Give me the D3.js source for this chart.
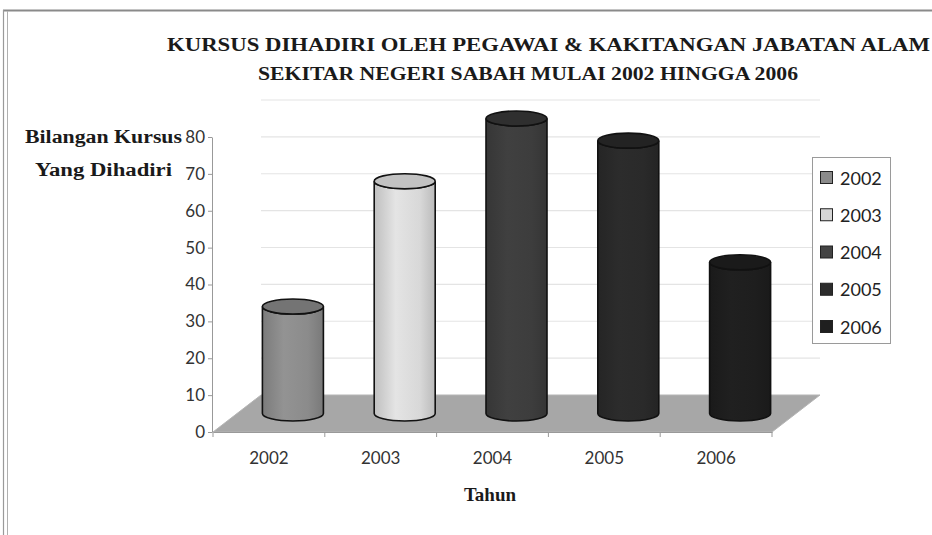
<!DOCTYPE html>
<html>
<head>
<meta charset="utf-8">
<script src="https://cdn.jsdelivr.net/npm/d3@7"></script>
<style>
  html, body { margin: 0; padding: 0; background: #fff; }
  svg { display: block; }
</style>
</head>
<body>
<svg id="chart" width="932" height="535"></svg>
<script>
// ---- Data ----
const categories = ["2002", "2003", "2004", "2005", "2006"];
const values = [29, 63, 80, 74, 41];
const yTicks = [0, 10, 20, 30, 40, 50, 60, 70, 80];
const titleLines = [
  "KURSUS DIHADIRI OLEH PEGAWAI & KAKITANGAN JABATAN ALAM",
  "SEKITAR NEGERI SABAH MULAI 2002 HINGGA 2006"
];
const yTitleLines = ["Bilangan Kursus", "Yang Dihadiri"];
const xTitle = "Tahun";

// ---- Styles ----
const bodyColors = ["#8b8b8b", "#d8d8d8", "#3d3d3d", "#2a2a2a", "#1e1e1e"];
const topColors  = ["#747474", "#c2c2c2", "#2f2f2f", "#232323", "#1a1a1a"];
const legendColors = ["#8a8a8a", "#d6d6d6", "#444444", "#2c2c2c", "#1f1f1f"];

const svg = d3.select("#chart");

// frame
svg.append("line").attr("x1", 3).attr("x2", 932).attr("y1", 10.5).attr("y2", 10.5)
  .attr("stroke", "#8a8a8a").attr("stroke-width", 2);
svg.append("line").attr("x1", 3.5).attr("x2", 3.5).attr("y1", 10).attr("y2", 535)
  .attr("stroke", "#9a9a9a").attr("stroke-width", 1.2);
svg.append("line").attr("x1", 7.5).attr("x2", 7.5).attr("y1", 11).attr("y2", 535)
  .attr("stroke", "#b0b0b0").attr("stroke-width", 1);

// scales
const x = d3.scaleBand().domain(categories).range([213, 772]).paddingInner(0).paddingOuter(0);
const y = d3.scaleLinear().domain([0, 80]).range([432, 137]);
const depthX = 48, depthY = -37;

// back-wall gridlines
const grid = svg.append("g");
yTicks.filter(d => d > 0).forEach(v => {
  grid.append("line")
    .attr("x1", x.range()[0] + depthX).attr("x2", x.range()[1] + depthX)
    .attr("y1", y(v) + depthY).attr("y2", y(v) + depthY)
    .attr("stroke", "#e4e4e4").attr("stroke-width", 1.2);
});

// floor
const x0 = x.range()[0], x1 = x.range()[1], y0 = y(0);
svg.append("path")
  .attr("d", `M${x0},${y0} L${x1},${y0} L${x1 + depthX},${y0 + depthY} L${x0 + depthX},${y0 + depthY} Z`)
  .attr("fill", "#a7a7a7").attr("stroke", "#b5b5b5").attr("stroke-width", 1);

// y axis
const yAxis = d3.axisLeft(y).tickValues(yTicks).tickSize(4).tickSizeOuter(0).tickPadding(3);
const yg = svg.append("g").attr("transform", `translate(${x0 - 1},0)`).call(yAxis);
yg.select(".domain").attr("stroke", "#999");
yg.selectAll(".tick line").attr("stroke", "#999");
yg.selectAll(".tick text").attr("font-family", "Lato, 'Open Sans', sans-serif")
  .attr("font-size", 17).attr("fill", "#333");

// x axis (labels at category centres, ticks at boundaries)
const xAxis = d3.axisBottom(x).tickSize(0).tickPadding(20);
const xg = svg.append("g").attr("transform", `translate(0,${y0})`).call(xAxis);
xg.select(".domain").attr("stroke", "#999");
xg.selectAll(".tick text").attr("font-family", "Lato, 'Open Sans', sans-serif")
  .attr("font-size", 17).attr("fill", "#333");
const bounds = categories.map(c => x(c)).concat([x1]);
xg.selectAll(".bnd").data(bounds).enter().append("line")
  .attr("x1", d => d).attr("x2", d => d).attr("y1", 0).attr("y2", 5)
  .attr("stroke", "#999");

// gradients
const defs = svg.append("defs");
bodyColors.forEach((c, i) => {
  const g = defs.append("linearGradient").attr("id", "g" + i).attr("x1", "0").attr("x2", "1").attr("y1", "0").attr("y2", "0");
  const base = d3.color(c);
  g.append("stop").attr("offset", "0%").attr("stop-color", base.darker(0.35));
  g.append("stop").attr("offset", "35%").attr("stop-color", base.brighter(0.15));
  g.append("stop").attr("offset", "75%").attr("stop-color", base);
  g.append("stop").attr("offset", "100%").attr("stop-color", base.darker(0.4));
});

// cylinders
const barW = 61, ry = 7.5;
const bars = svg.append("g");
categories.forEach((c, i) => {
  const cx = x(c) + x.bandwidth() / 2 + depthX / 2;
  const baseY = y(0) + depthY / 2;
  const topY = y(values[i]) + depthY / 2;
  const r = barW / 2, L = cx - r, R = cx + r;
  bars.append("path")
    .attr("d", `M${L},${topY} L${L},${baseY} A${r},${ry} 0 0 0 ${R},${baseY} L${R},${topY} A${r},${ry} 0 0 1 ${L},${topY} Z`)
    .attr("fill", `url(#g${i})`).attr("stroke", "#111").attr("stroke-width", 1.6);
  bars.append("ellipse")
    .attr("cx", cx).attr("cy", topY).attr("rx", r).attr("ry", ry)
    .attr("fill", topColors[i]).attr("stroke", "#111").attr("stroke-width", 1.6);
});

// title
const titleFont = "'Liberation Serif', 'DejaVu Serif', serif";
svg.append("text").text(titleLines[0])
  .attr("x", 167).attr("y", 51).attr("font-family", titleFont).attr("font-weight", "bold")
  .attr("font-size", 19).attr("fill", "#1a1a1a")
  .attr("textLength", 763).attr("lengthAdjust", "spacingAndGlyphs");
svg.append("text").text(titleLines[1])
  .attr("x", 258).attr("y", 80).attr("font-family", titleFont).attr("font-weight", "bold")
  .attr("font-size", 19).attr("fill", "#1a1a1a")
  .attr("textLength", 540).attr("lengthAdjust", "spacingAndGlyphs");

// y title
svg.append("text").text(yTitleLines[0])
  .attr("x", 25).attr("y", 143).attr("font-family", titleFont).attr("font-weight", "bold")
  .attr("font-size", 18).attr("fill", "#1a1a1a")
  .attr("textLength", 157).attr("lengthAdjust", "spacingAndGlyphs");
svg.append("text").text(yTitleLines[1])
  .attr("x", 35).attr("y", 176).attr("font-family", titleFont).attr("font-weight", "bold")
  .attr("font-size", 18).attr("fill", "#1a1a1a")
  .attr("textLength", 137).attr("lengthAdjust", "spacingAndGlyphs");

// x title
svg.append("text").text(xTitle)
  .attr("x", 490).attr("y", 501).attr("text-anchor", "middle")
  .attr("font-family", titleFont).attr("font-weight", "bold")
  .attr("font-size", 19).attr("fill", "#1a1a1a");

// legend
const lg = svg.append("g");
lg.append("rect").attr("x", 812.5).attr("y", 157.5).attr("width", 78).attr("height", 186)
  .attr("fill", "#fff").attr("stroke", "#9a9a9a");
const ly = d3.scalePoint().domain(categories).range([178, 327]);
categories.forEach((c, i) => {
  lg.append("rect").attr("x", 820.5).attr("y", ly(c) - 6.5).attr("width", 12).attr("height", 12)
    .attr("fill", legendColors[i]).attr("stroke", "#222").attr("stroke-width", 1);
  lg.append("text").text(c).attr("x", 840).attr("y", ly(c) + 6.5)
    .attr("font-family", "Lato, 'Open Sans', sans-serif").attr("font-size", 18).attr("fill", "#222");
});
</script>
</body>
</html>
